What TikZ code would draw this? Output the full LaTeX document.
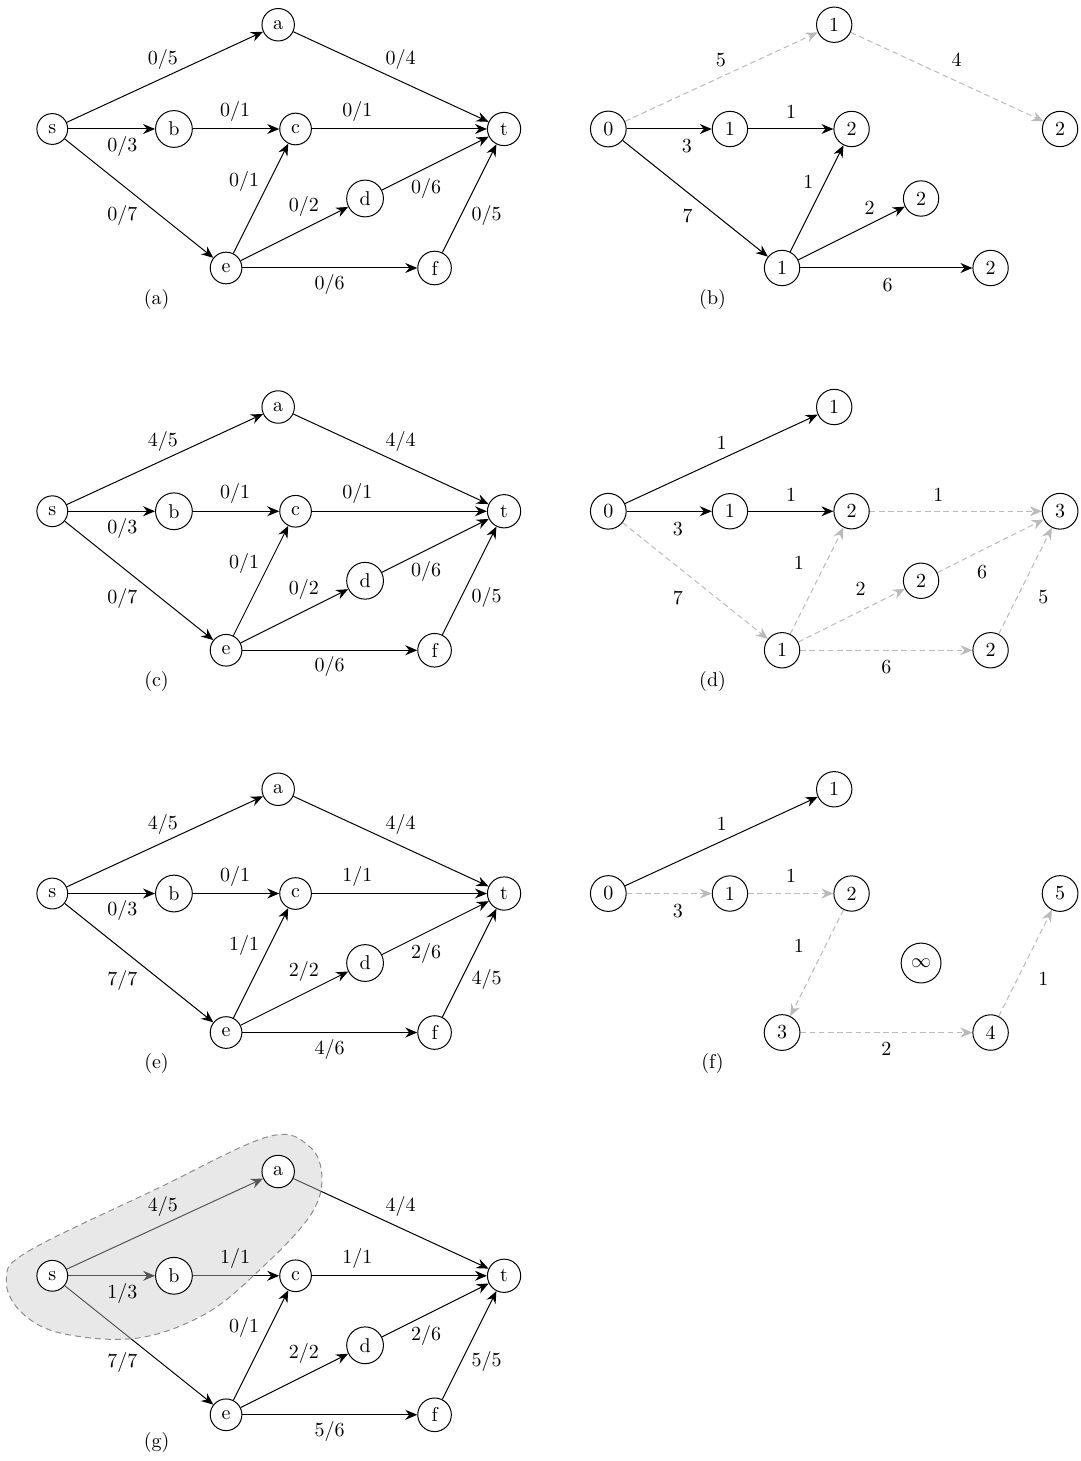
\documentclass[tikz,border=0pt]{standalone}
\usetikzlibrary{arrows.meta}
\pgfdeclarelayer{blob}
\pgfdeclarelayer{top}
\pgfsetlayers{main,blob,top}
\tikzset{
  vtx/.style={circle, draw, fill=white, line width=0.5pt},
  blk/.style={-{Stealth[length=6pt,width=5pt,inset=2pt]}, line width=0.5pt},
  gry/.style={blk, draw=black!27, dash pattern=on 2.8pt off 1.8pt},
  lab/.style={inner sep=0pt},
  captxt/.style={inner sep=0pt},
  blobsty/.style={draw=black!45, dash pattern=on 3pt off 2pt, line width=0.5pt, fill=black!21, fill opacity=0.42},
}
% nodes of one panel: prefix, then labels of s a b c d e f t
\newcommand\Net[9]{%
  \begin{pgfonlayer}{top}
    \node[vtx] (#1-s) at (0,0) {#2};
    \node[vtx] (#1-a) at (3.25,1.5) {#3};
    \node[vtx] (#1-b) at (1.75,0) {#4};
    \node[vtx] (#1-c) at (3.5,0) {#5};
    \node[vtx] (#1-d) at (4.5,-1) {#6};
    \node[vtx] (#1-e) at (2.5,-2) {#7};
    \node[vtx] (#1-f) at (5.5,-2) {#8};
    \node[vtx] (#1-t) at (6.5,0) {#9};
  \end{pgfonlayer}}
\begin{document}
\begin{tikzpicture}[x=34.75pt,y=34.75pt]
\useasboundingbox (-0.7525,-19.165) rectangle (14.801,1.856);

% ---------------- (a)
\begin{scope}
\Net{A}{s}{a}{b}{c}{d}{e}{f}{t}
\draw[blk] (A-s) -- (A-a) node[lab] at (1.59,1.0) {$0/5$};
\draw[blk] (A-a) -- (A-t) node[lab] at (5.01,1.0) {$0/4$};
\draw[blk] (A-s) -- (A-b) node[lab] at (1.01,-0.25) {$0/3$};
\draw[blk] (A-b) -- (A-c) node[lab] at (2.63,0.25) {$0/1$};
\draw[blk] (A-c) -- (A-t) node[lab] at (4.39,0.25) {$0/1$};
\draw[blk] (A-s) -- (A-e) node[lab] at (1.01,-1.25) {$0/7$};
\draw[blk] (A-e) -- (A-c) node[lab] at (2.76,-0.75) {$0/1$};
\draw[blk] (A-e) -- (A-d) node[lab] at (3.62,-1.12) {$0/2$};
\draw[blk] (A-d) -- (A-t) node[lab] at (5.38,-0.86) {$0/6$};
\draw[blk] (A-e) -- (A-f) node[lab] at (3.99,-2.24) {$0/6$};
\draw[blk] (A-f) -- (A-t) node[lab] at (6.25,-1.24) {$0/5$};
\node[captxt] (capA) at (1.5,-2.45) {(a)};
\end{scope}

% ---------------- (b)
\begin{scope}[shift={(8,0)}]
\Net{B}{0}{1}{1}{2}{2}{1}{2}{2}
\draw[gry] (B-s) -- (B-a) node[lab] at (1.62,0.99) {5};
\draw[gry] (B-a) -- (B-t) node[lab] at (5.01,0.99) {4};
\draw[blk] (B-s) -- (B-b) node[lab] at (1.13,-0.24) {3};
\draw[blk] (B-b) -- (B-c) node[lab] at (2.63,0.24) {1};
\draw[blk] (B-s) -- (B-e) node[lab] at (1.14,-1.25) {7};
\draw[blk] (B-e) -- (B-c) node[lab] at (2.88,-0.76) {1};
\draw[blk] (B-e) -- (B-d) node[lab] at (3.76,-1.13) {2};
\draw[blk] (B-e) -- (B-f) node[lab] at (4.02,-2.24) {6};
\node[captxt] (capB) at (1.5,-2.45) {(b)};
\end{scope}

% ---------------- (c)
\begin{scope}[shift={(0,-5.5)}]
\Net{C}{s}{a}{b}{c}{d}{e}{f}{t}
\draw[blk] (C-s) -- (C-a) node[lab] at (1.59,1.0) {$4/5$};
\draw[blk] (C-a) -- (C-t) node[lab] at (5.01,1.0) {$4/4$};
\draw[blk] (C-s) -- (C-b) node[lab] at (1.01,-0.25) {$0/3$};
\draw[blk] (C-b) -- (C-c) node[lab] at (2.63,0.25) {$0/1$};
\draw[blk] (C-c) -- (C-t) node[lab] at (4.39,0.25) {$0/1$};
\draw[blk] (C-s) -- (C-e) node[lab] at (1.01,-1.25) {$0/7$};
\draw[blk] (C-e) -- (C-c) node[lab] at (2.76,-0.75) {$0/1$};
\draw[blk] (C-e) -- (C-d) node[lab] at (3.62,-1.12) {$0/2$};
\draw[blk] (C-d) -- (C-t) node[lab] at (5.38,-0.86) {$0/6$};
\draw[blk] (C-e) -- (C-f) node[lab] at (3.99,-2.24) {$0/6$};
\draw[blk] (C-f) -- (C-t) node[lab] at (6.25,-1.24) {$0/5$};
\node[captxt] (capC) at (1.5,-2.45) {(c)};
\end{scope}

% ---------------- (d)
\begin{scope}[shift={(8,-5.5)}]
\Net{D}{0}{1}{1}{2}{2}{1}{2}{3}
\draw[blk] (D-s) -- (D-a) node[lab] at (1.63,0.99) {1};
\draw[blk] (D-s) -- (D-b) node[lab] at (1.0,-0.25) {3};
\draw[blk] (D-b) -- (D-c) node[lab] at (2.63,0.24) {1};
\draw[gry] (D-c) -- (D-t) node[lab] at (4.75,0.24) {1};
\draw[gry] (D-s) -- (D-e) node[lab] at (1.0,-1.25) {7};
\draw[gry] (D-e) -- (D-c) node[lab] at (2.74,-0.74) {1};
\draw[gry] (D-e) -- (D-d) node[lab] at (3.63,-1.12) {2};
\draw[gry] (D-d) -- (D-t) node[lab] at (5.38,-0.87) {6};
\draw[gry] (D-e) -- (D-f) node[lab] at (4.0,-2.24) {6};
\draw[gry] (D-f) -- (D-t) node[lab] at (6.26,-1.24) {5};
\node[captxt] (capD) at (1.5,-2.45) {(d)};
\end{scope}

% ---------------- (e)
\begin{scope}[shift={(0,-11)}]
\Net{E}{s}{a}{b}{c}{d}{e}{f}{t}
\draw[blk] (E-s) -- (E-a) node[lab] at (1.59,1.0) {$4/5$};
\draw[blk] (E-a) -- (E-t) node[lab] at (5.01,1.0) {$4/4$};
\draw[blk] (E-s) -- (E-b) node[lab] at (1.01,-0.25) {$0/3$};
\draw[blk] (E-b) -- (E-c) node[lab] at (2.63,0.25) {$0/1$};
\draw[blk] (E-c) -- (E-t) node[lab] at (4.39,0.25) {$1/1$};
\draw[blk] (E-s) -- (E-e) node[lab] at (1.01,-1.25) {$7/7$};
\draw[blk] (E-e) -- (E-c) node[lab] at (2.76,-0.75) {$1/1$};
\draw[blk] (E-e) -- (E-d) node[lab] at (3.62,-1.12) {$2/2$};
\draw[blk] (E-d) -- (E-t) node[lab] at (5.38,-0.86) {$2/6$};
\draw[blk] (E-e) -- (E-f) node[lab] at (3.99,-2.24) {$4/6$};
\draw[blk] (E-f) -- (E-t) node[lab] at (6.25,-1.24) {$4/5$};
\node[captxt] (capE) at (1.5,-2.45) {(e)};
\end{scope}

% ---------------- (f)
\begin{scope}[shift={(8,-11)}]
\Net{F}{0}{1}{1}{2}{$\infty$}{3}{4}{5}
\draw[blk] (F-s) -- (F-a) node[lab] at (1.63,1.0) {1};
\draw[gry] (F-s) -- (F-b) node[lab] at (1.0,-0.25) {3};
\draw[gry] (F-b) -- (F-c) node[lab] at (2.63,0.25) {1};
\draw[gry] (F-c) -- (F-e) node[lab] at (2.74,-0.75) {1};
\draw[gry] (F-e) -- (F-f) node[lab] at (4.0,-2.24) {2};
\draw[gry] (F-f) -- (F-t) node[lab] at (6.26,-1.23) {1};
\node[captxt] (capF) at (1.5,-2.45) {(f)};
\end{scope}

% ---------------- (g)
\begin{scope}[shift={(0,-16.5)}]
\Net{G}{s}{a}{b}{c}{d}{e}{f}{t}
\begin{pgfonlayer}{blob}
\draw[blobsty] plot[smooth cycle, tension=0.6] coordinates {
  (-0.66,-0.05) (-0.35,0.35) (1.5,1.25) (3.1,2.0) (3.7,1.86) (3.88,1.4)
  (3.7,0.85) (3.0,0.1) (2.2,-0.55) (1.2,-0.9) (0.1,-0.82) (-0.47,-0.5)};
\end{pgfonlayer}
\draw[blk] (G-s) -- (G-a);
\draw[blk] (G-s) -- (G-b);
\draw[blk] (G-b) -- (G-c);
\begin{pgfonlayer}{top}
\path (G-s) -- (G-a) node[lab] at (1.59,1.0) {$4/5$};
\path (G-s) -- (G-b) node[lab] at (1.01,-0.25) {$1/3$};
\path (G-b) -- (G-c) node[lab] at (2.63,0.25) {$1/1$};
\end{pgfonlayer}
\draw[blk] (G-a) -- (G-t) node[lab] at (5.01,1.0) {$4/4$};
\draw[blk] (G-c) -- (G-t) node[lab] at (4.39,0.25) {$1/1$};
\draw[blk] (G-s) -- (G-e) node[lab] at (1.01,-1.25) {$7/7$};
\draw[blk] (G-e) -- (G-c) node[lab] at (2.76,-0.75) {$0/1$};
\draw[blk] (G-e) -- (G-d) node[lab] at (3.62,-1.12) {$2/2$};
\draw[blk] (G-d) -- (G-t) node[lab] at (5.38,-0.86) {$2/6$};
\draw[blk] (G-e) -- (G-f) node[lab] at (3.99,-2.24) {$5/6$};
\draw[blk] (G-f) -- (G-t) node[lab] at (6.25,-1.24) {$5/5$};
\node[captxt] (capG) at (1.5,-2.4) {(g)};
\end{scope}
\end{tikzpicture}
\end{document}
